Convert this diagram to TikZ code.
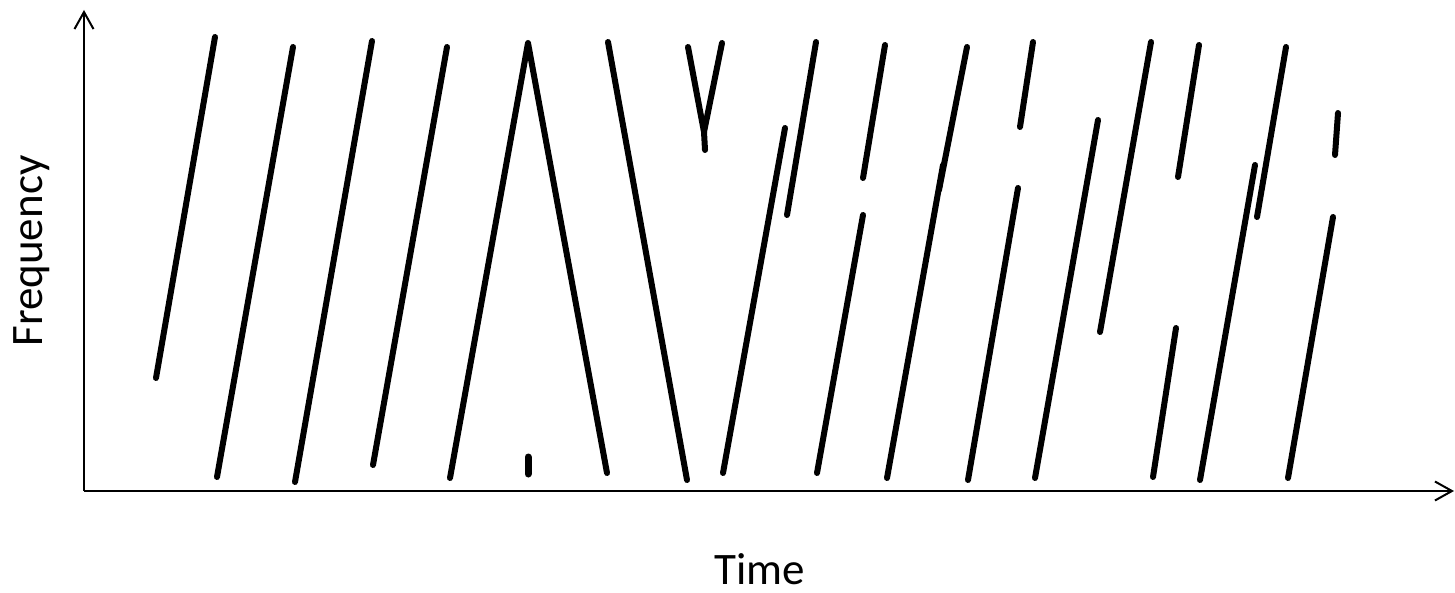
\documentclass[tikz,border=0pt]{standalone}
\usepackage{fontspec}
\setmainfont{Carlito}
\usetikzlibrary{arrows.meta}
\tikzset{
  axisline/.style={line width=2pt, -{Straight Barb[length=17pt,width=19pt,line width=2pt]}},
  chirp/.style={line width=6pt, line cap=round, line join=round},
  axlabel/.style={inner sep=0pt, font=\fontsize{45}{54}\selectfont}
}
\begin{document}
\begin{tikzpicture}[x=1pt,y=-1pt]
\useasboundingbox (0,0) rectangle (1455,593);
% axes
\coordinate (O) at (84,491);
\coordinate (ytop) at (84,10);
\coordinate (xend) at (1454,491);
\draw[axisline] (O) -- (ytop);
\draw[axisline] (O) -- (xend);
% labels
\node[axlabel, rotate=90, anchor=base] (flab) at (42,251) {Frequency};
\node[axlabel, anchor=base] (tlab) at (760,584) {Time};
% chirps
\draw[chirp] (156,378) -- (215,37);
\draw[chirp] (217,477) -- (293,47);
\draw[chirp] (295,482) -- (372,41);
\draw[chirp] (373,465) -- (447,47);
\draw[chirp] (450,478) -- (528,43) -- (607,473);
\draw[line width=7pt, line cap=round] (528,457) -- (528,474);
\draw[chirp] (608,42) -- (687,480);
\draw[chirp] (688,47) -- (704,132) -- (722,43);
\draw[chirp] (704,132) -- (705,150);
\draw[chirp] (723,473) -- (785,128);
\draw[chirp] (787,215) -- (816,42);
\draw[chirp] (817,473) -- (863,215);
\draw[chirp] (863,178) -- (885,45);
\draw[chirp] (887,478) -- (943,165);
\draw[chirp] (939,190) -- (967,47);
\draw[chirp] (1020,127) -- (1033,42);
\draw[chirp] (968,480) -- (1018,188);
\draw[chirp] (1035,478) -- (1098,120);
\draw[chirp] (1100,332) -- (1151,42);
\draw[chirp] (1153,477) -- (1176,328);
\draw[chirp] (1178,177) -- (1199,45);
\draw[chirp] (1200,480) -- (1255,165);
\draw[chirp] (1257,217) -- (1286,47);
\draw[chirp] (1335,155) -- (1338,113);
\draw[chirp] (1288,478) -- (1333,217);
\end{tikzpicture}
\end{document}
